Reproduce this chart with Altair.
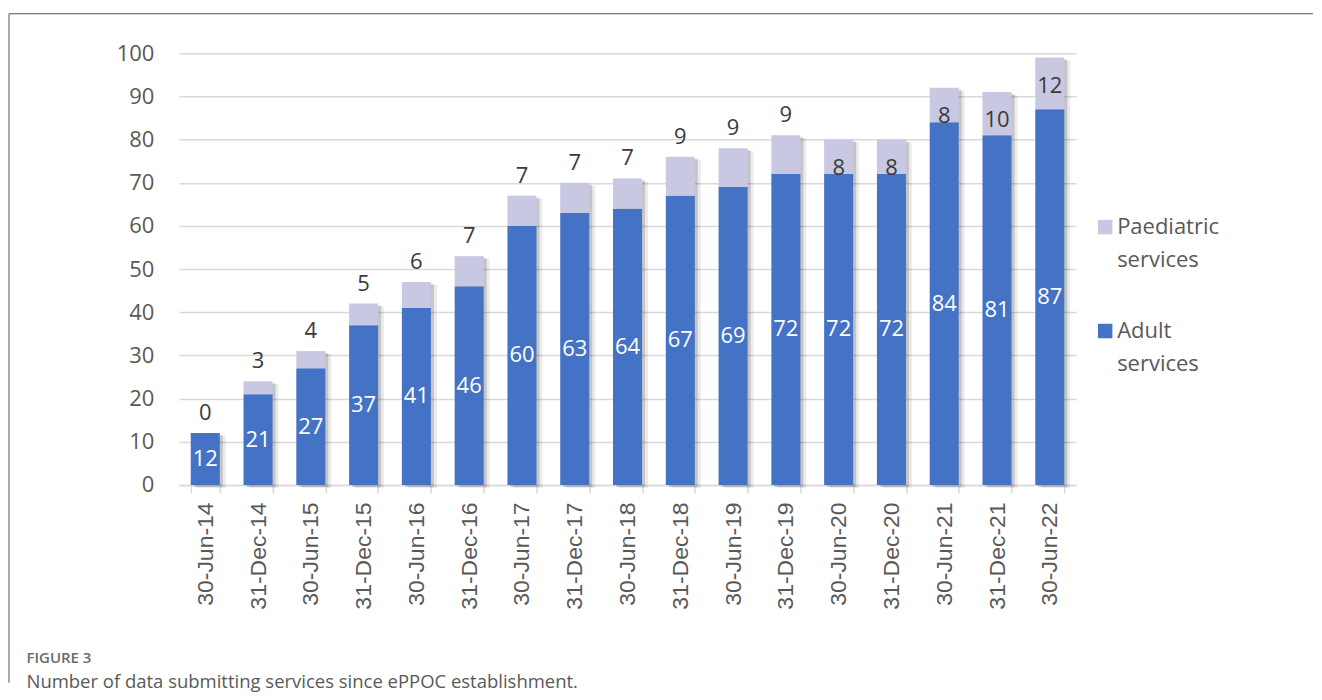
import altair as alt
import pandas as pd

categories = ["30-Jun-14", "31-Dec-14", "30-Jun-15", "31-Dec-15", "30-Jun-16", "31-Dec-16",
              "30-Jun-17", "31-Dec-17", "30-Jun-18", "31-Dec-18", "30-Jun-19", "31-Dec-19",
              "30-Jun-20", "31-Dec-20", "30-Jun-21", "31-Dec-21", "30-Jun-22"]
adult = [12, 21, 27, 37, 41, 46, 60, 63, 64, 67, 69, 72, 72, 72, 84, 81, 87]
paediatric = [0, 3, 4, 5, 6, 7, 7, 7, 7, 9, 9, 9, 8, 8, 8, 10, 12]
paed_label_place = ["above"] * 12 + ["inside"] * 5
series_names = ["Paediatric services", "Adult services"]
series_colors = ["#C9C8E2", "#4472C4"]

long_rows = []
for c, a, p in zip(categories, adult, paediatric):
    long_rows.append({"date": c, "series": "Adult services", "value": a, "ord": 0})
    long_rows.append({"date": c, "series": "Paediatric services", "value": p, "ord": 1})
long_df = pd.DataFrame(long_rows)
wide_df = pd.DataFrame({"date": categories, "adult": adult, "paed": paediatric,
                        "place": paed_label_place})

X = alt.X("date:N", sort=categories, title=None,
          scale=alt.Scale(paddingInner=0.45, paddingOuter=0.225))
YSCALE = alt.Scale(domain=[0, 100])

shadow1 = alt.Chart(wide_df).transform_calculate(total="datum.adult + datum.paed").mark_bar(
    color="#000000", opacity=0.16, xOffset=3, yOffset=2
).encode(x=X, y=alt.Y("total:Q", scale=YSCALE, title=None))
shadow2 = alt.Chart(wide_df).transform_calculate(total="datum.adult + datum.paed").mark_bar(
    color="#000000", opacity=0.08, xOffset=6, yOffset=3
).encode(x=X, y=alt.Y("total:Q", scale=YSCALE, title=None))

bars = alt.Chart(long_df).mark_bar().encode(
    x=X,
    y=alt.Y("value:Q", stack="zero", scale=YSCALE, title=None),
    color=alt.Color("series:N",
                    scale=alt.Scale(domain=series_names, range=series_colors),
                    legend=alt.Legend(title=None, orient="none", legendX=916, legendY=163,
                                      symbolType="square", symbolSize=210,
                                      symbolStrokeWidth=0, labelFont="Open Sans",
                                      labelFontSize=22, labelColor="#595959",
                                      labelOffset=1, rowPadding=49, padding=0,
                                      labelLimit=400,
                                      labelExpr="split(datum.label, ' ')")),
    order=alt.Order("ord:Q"),
)

adult_labels = alt.Chart(wide_df).transform_calculate(mid="datum.adult / 2").mark_text(
    font="Open Sans", fontSize=22, color="#ffffff", baseline="middle"
).encode(x=X, y=alt.Y("mid:Q", scale=YSCALE, title=None), text="adult:Q")

paed_above = alt.Chart(wide_df).transform_filter("datum.place == 'above'").transform_calculate(
    total="datum.adult + datum.paed").mark_text(
    font="Open Sans", fontSize=22, color="#3a3a3a", baseline="middle", dy=-20
).encode(x=X, y=alt.Y("total:Q", scale=YSCALE, title=None), text="paed:Q")

paed_inside = alt.Chart(wide_df).transform_filter("datum.place == 'inside'").transform_calculate(
    total="datum.adult + datum.paed").mark_text(
    font="Open Sans", fontSize=22, color="#3a3a3a", baseline="middle", dy=28
).encode(x=X, y=alt.Y("total:Q", scale=YSCALE, title=None), text="paed:Q")

frame_df = pd.DataFrame({"k": [0]})
frame_left = alt.Chart(frame_df).mark_rule(color="#555555", strokeWidth=1).encode(
    x=alt.value(-170), y=alt.value(-39.5), y2=alt.value(630))
frame_top = alt.Chart(frame_df).mark_rule(color="#555555", strokeWidth=1).encode(
    x=alt.value(-170), x2=alt.value(1135), y=alt.value(-39.5))

chart = alt.layer(
    frame_left, frame_top, shadow2, shadow1, bars, adult_labels, paed_above, paed_inside
).properties(
    width=898, height=432,
    padding={"left": 0, "top": 5, "right": 0, "bottom": 0},
    title=alt.Title(text="FIGURE 3",
                    subtitle="Number of data submitting services since ePPOC establishment.",
                    orient="bottom", anchor="start", frame="bounds", offset=-32, dx=18,
                    font="Open Sans", fontSize=15, fontWeight=600, color="#6b6b6b",
                    subtitleFont="Open Sans", subtitleFontSize=18.5, subtitleColor="#595959",
                    subtitlePadding=7),
).configure(
    style={"guide-label": {"lineHeight": 33}}
).configure_view(stroke=None).configure_axisX(
    labelAngle=-90, labelFont="Liberation Sans", labelFontSize=23, labelColor="#595959",
    tickBand="extent", tickSize=8, tickColor="#d9d9d9", domainColor="#d9d9d9",
    domainWidth=1.5, tickWidth=1.5, labelPadding=9, grid=False
).configure_axisY(
    values=list(range(0, 101, 10)), domain=False, ticks=False, labelFont="Open Sans",
    labelFontSize=22, labelColor="#595959", labelPadding=25, gridColor="#d9d9d9",
    gridWidth=1.5
)

chart.save("out.html", embed_options={"renderer": "svg", "actions": False})
